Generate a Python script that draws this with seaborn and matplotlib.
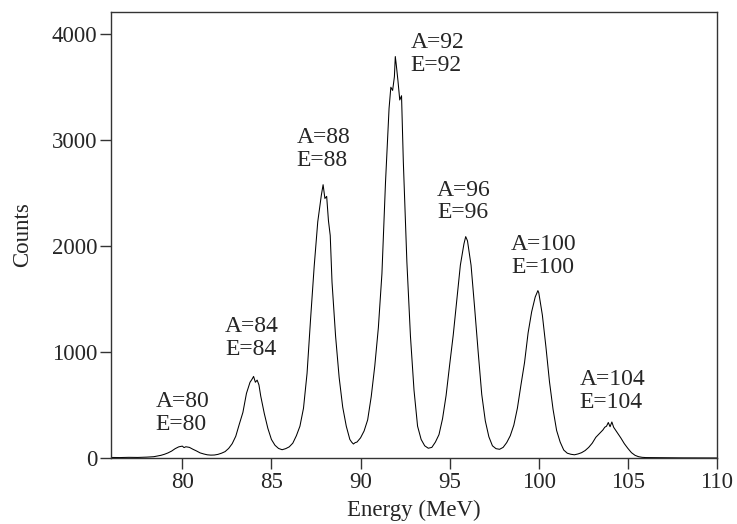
import matplotlib
matplotlib.use("Agg")
import matplotlib.pyplot as plt
import seaborn as sns
import pandas as pd

# Energy (MeV) and counts
energy = [76.0, 76.5, 77.0, 77.5, 78.0, 78.4, 78.8,
          79.0, 79.2, 79.4, 79.6, 79.8, 80.0, 80.1, 80.2, 80.4, 80.6, 80.8,
          81.0, 81.2, 81.4, 81.6, 81.8, 82.0, 82.2, 82.4, 82.6, 82.8,
          83.0, 83.2, 83.4, 83.6, 83.8, 83.9, 84.0, 84.1, 84.2, 84.3, 84.4, 84.6, 84.8,
          85.0, 85.2, 85.4, 85.6, 85.8, 86.0, 86.2, 86.4, 86.6, 86.8,
          87.0, 87.2, 87.4, 87.6, 87.8, 87.9, 88.0, 88.1, 88.2, 88.3, 88.4, 88.6, 88.8,
          89.0, 89.2, 89.4, 89.5, 89.6, 89.7, 89.8, 90.0, 90.2, 90.4, 90.6, 90.8,
          91.0, 91.2, 91.4, 91.6, 91.7, 91.8, 91.9, 91.95, 92.0, 92.1, 92.2, 92.3, 92.4, 92.6, 92.8,
          93.0, 93.2, 93.4, 93.6, 93.8, 94.0, 94.2, 94.4, 94.6, 94.8,
          95.0, 95.2, 95.4, 95.6, 95.8, 95.9, 96.0, 96.2, 96.4, 96.6, 96.8,
          97.0, 97.2, 97.4, 97.6, 97.8, 98.0, 98.2, 98.4, 98.6, 98.8,
          99.0, 99.2, 99.4, 99.6, 99.8, 99.95, 100.0, 100.2, 100.4, 100.6, 100.8,
          101.0, 101.2, 101.4, 101.6, 101.8, 102.0, 102.2, 102.4, 102.6, 102.8,
          103.0, 103.2, 103.4, 103.6, 103.7, 103.8, 103.9, 104.0, 104.1, 104.2, 104.4, 104.6, 104.8,
          105.0, 105.2, 105.4, 105.6, 105.8, 106.0, 106.5, 107.0, 108.0, 109.0, 110.0]

counts = [5, 4, 6, 5, 8, 12, 25,
          35, 48, 65, 88, 105, 112, 98, 106, 100, 82, 66,
          48, 38, 30, 27, 28, 34, 45, 60, 90, 135,
          205, 320, 430, 610, 715, 740, 770, 715, 735, 690, 585, 420, 280,
          175, 120, 90, 78, 88, 105, 140, 210, 300, 470,
          800, 1320, 1810, 2230, 2480, 2580, 2450, 2470, 2240, 2100, 1660, 1150, 760,
          480, 300, 175, 150, 132, 145, 150, 190, 255, 360, 580, 870,
          1230, 1740, 2600, 3300, 3500, 3470, 3600, 3790, 3720, 3560, 3380, 3420, 2800, 1850, 1150,
          640, 300, 175, 115, 92, 100, 150, 220, 370, 590,
          880, 1160, 1490, 1820, 2020, 2090, 2050, 1820, 1420, 1000, 600,
          350, 200, 115, 88, 82, 100, 145, 210, 310, 470,
          690, 900, 1180, 1380, 1520, 1580, 1560, 1350, 1050, 720, 460,
          260, 150, 75, 45, 35, 30, 38, 50, 70, 100,
          140, 195, 230, 265, 290, 300, 335, 295, 340, 290, 240, 190, 135,
          90, 50, 25, 12, 6, 4, 3, 2, 1, 1, 0]

# Peak labels
label_text = ["A=80\nE=80", "A=84\nE=84", "A=88\nE=88", "A=92\nE=92",
              "A=96\nE=96", "A=100\nE=100", "A=104\nE=104"]
label_x = [78.5, 82.4, 86.4, 92.8, 94.3, 98.45, 102.3]
label_y = [425, 1130, 2915, 3815, 2420, 1905, 630]

sns.set_style("ticks")
plt.rcParams["font.family"] = ["Liberation Serif", "DejaVu Serif"]

fig = plt.figure(figsize=(7.37, 5.24), dpi=100)
ax = fig.add_axes([0.1506, 0.126, 0.8223, 0.851])

df = pd.DataFrame({"Energy": energy, "Counts": counts})
sns.lineplot(data=df, x="Energy", y="Counts", color="black", linewidth=0.75, ax=ax)

for t, x, y in zip(label_text, label_x, label_y):
    ax.text(x, y, t, ha="left", va="center", fontsize=17, linespacing=1.1)

ax.set_xlim(76, 110)
ax.set_ylim(0, 4210)
ax.set_xticks([80, 85, 90, 95, 100, 105, 110])
ax.set_yticks([0, 1000, 2000, 3000, 4000])
ax.tick_params(axis="both", direction="out", length=8, width=1, labelsize=16.5,
               pad=2, color="#333333")
ax.set_xlabel("Energy (MeV)", fontsize=16.5, labelpad=5)
ax.set_ylabel("Counts", fontsize=16.5, labelpad=13)
for s in ax.spines.values():
    s.set_visible(True)
    s.set_linewidth(1.0)
    s.set_color("#333333")

fig.savefig("out.png", dpi=100)
